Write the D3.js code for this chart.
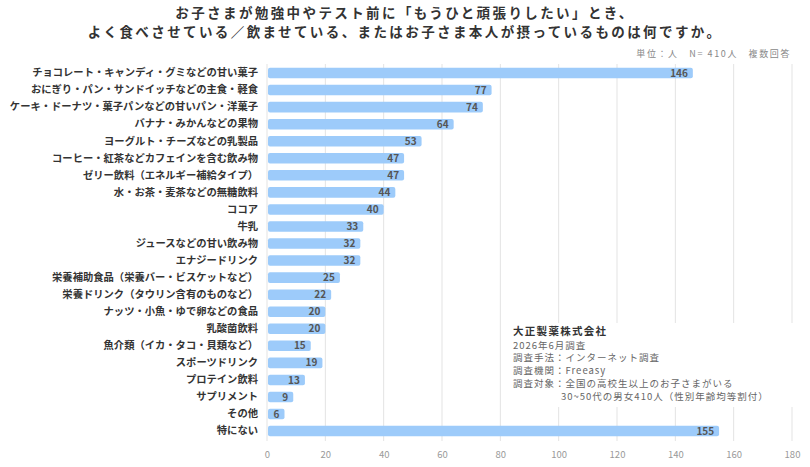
<!DOCTYPE html>
<html><head><meta charset="utf-8">
<script src="https://cdn.jsdelivr.net/npm/d3@7"></script>
<style>
html,body{margin:0;padding:0;background:#fff;}
text{font-family:"Noto Sans CJK JP","Noto Sans",sans-serif;}
</style></head>
<body>
<svg id="c" width="810" height="467"></svg>
<script>
const titleLines = [
  "お子さまが勉強中やテスト前に「もうひと頑張りしたい」とき、",
  "よく食べさせている／飲ませている、またはお子さま本人が摂っているものは何ですか。"
];
const subtitle = "単位：人　N= 410人　複数回答";
const categories = [
  "チョコレート・キャンディ・グミなどの甘い菓子",
  "おにぎり・パン・サンドイッチなどの主食・軽食",
  "ケーキ・ドーナツ・菓子パンなどの甘いパン・洋菓子",
  "バナナ・みかんなどの果物",
  "ヨーグルト・チーズなどの乳製品",
  "コーヒー・紅茶などカフェインを含む飲み物",
  "ゼリー飲料（エネルギー補給タイプ）",
  "水・お茶・麦茶などの無糖飲料",
  "ココア",
  "牛乳",
  "ジュースなどの甘い飲み物",
  "エナジードリンク",
  "栄養補助食品（栄養バー・ビスケットなど）",
  "栄養ドリンク（タウリン含有のものなど）",
  "ナッツ・小魚・ゆで卵などの食品",
  "乳酸菌飲料",
  "魚介類（イカ・タコ・貝類など）",
  "スポーツドリンク",
  "プロテイン飲料",
  "サプリメント",
  "その他",
  "特にない"
];
const values = [146,77,74,64,53,47,47,44,40,33,32,32,25,22,20,20,15,19,13,9,6,155];
const xTicks = [0,20,40,60,80,100,120,140,160,180];
const noteTitle = "大正製薬株式会社";
const noteLines = [
  "2026年6月調査",
  "調査手法：インターネット調査",
  "調査機関：Freeasy",
  "調査対象：全国の高校生以上のお子さまがいる"
];
const noteLast = "30~50代の男女410人（性別年齢均等割付）";

const svg = d3.select("#c");
const x = d3.scaleLinear().domain([0,180]).range([267,792]);
const y = d3.scaleBand().domain(categories).range([64.5,439.6]).paddingInner(0.38).paddingOuter(0.19);

// title
svg.selectAll("text.title").data(titleLines).join("text")
  .attr("class","title")
  .attr("x",405).attr("y",(d,i)=>18+i*18.5)
  .attr("text-anchor","middle")
  .attr("font-size",13.5).attr("letter-spacing",2.4).attr("font-weight","bold").attr("fill","#333")
  .text(d=>d);

svg.append("text").attr("x",791).attr("y",57).attr("text-anchor","end")
  .attr("font-size",9).attr("letter-spacing",1.6).attr("fill","#888").text(subtitle);

// gridlines
svg.append("g").selectAll("line").data(xTicks).join("line")
  .attr("x1",d=>x(d)).attr("x2",d=>x(d)).attr("y1",64).attr("y2",441)
  .attr("stroke","#e3e3e3").attr("stroke-width",1);

// x axis labels
const ax = svg.append("g").attr("transform","translate(0,447)")
  .call(d3.axisBottom(x).tickValues(xTicks).tickSize(0).tickPadding(4));
ax.select(".domain").remove();
ax.selectAll("text").attr("font-size",9.5).attr("fill","#999")
  .attr("font-family","'Noto Sans CJK JP','Noto Sans',sans-serif");

// category labels
const ay = svg.append("g").attr("transform","translate(258,0)")
  .call(d3.axisLeft(y).tickSize(0).tickPadding(0));
ay.select(".domain").remove();
ay.selectAll("text").attr("font-size",10.3).attr("font-weight","bold").attr("fill","#333")
  .attr("font-family","'Noto Sans CJK JP','Noto Sans',sans-serif");

// bars
svg.append("g").selectAll("rect").data(values).join("rect")
  .attr("x",x(0)+1).attr("y",(d,i)=>y(categories[i]))
  .attr("width",d=>x(d)-x(0)-1).attr("height",y.bandwidth())
  .attr("rx",2).attr("fill","#9dcbfa");

// value labels
svg.append("g").selectAll("text").data(values).join("text")
  .attr("x",d=>x(d)-5).attr("y",(d,i)=>y(categories[i])+y.bandwidth()/2)
  .attr("dy","0.36em").attr("text-anchor","end")
  .attr("font-size",10).attr("font-weight","bold").attr("fill","#555")
  .text(d=>d);

// note box
svg.append("rect").attr("x",503).attr("y",323).attr("width",300).attr("height",84).attr("fill","#fff");
svg.append("text").attr("x",513).attr("y",334.5).attr("font-size",10.5).attr("letter-spacing",1.3)
  .attr("font-weight","bold").attr("fill","#333").text(noteTitle);
svg.selectAll("text.note").data(noteLines).join("text").attr("class","note")
  .attr("x",513).attr("y",(d,i)=>348.5+i*12.9).attr("font-size",9.5).attr("letter-spacing",1)
  .attr("fill","#666").text(d=>d);
svg.append("text").attr("x",561).attr("y",400.2).attr("font-size",9.5).attr("letter-spacing",1)
  .attr("fill","#666").text(noteLast);
</script>
</body></html>
